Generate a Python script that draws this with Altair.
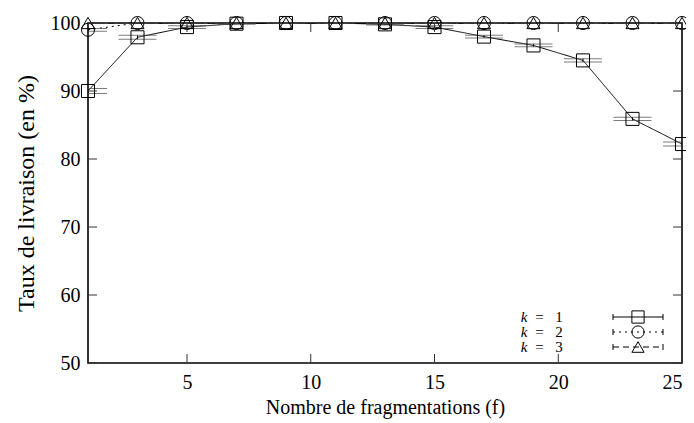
import altair as alt
import pandas as pd

# ---- data ----
frag = [1, 3, 5, 7, 9, 11, 13, 15, 17, 19, 21, 23, 25]
k1 = [90.0, 97.9, 99.4, 99.9, 100.0, 100.0, 99.8, 99.4, 98.0, 96.7, 94.5, 85.9, 82.2]
k1_err = [0.35, 0.3, 0.2, 0.1, 0.05, 0.05, 0.1, 0.2, 0.2, 0.2, 0.25, 0.25, 0.3]
k2 = [99.0, 100.0, 100.0, 100.0, 100.0, 100.0, 100.0, 100.0, 100.0, 100.0, 100.0, 100.0, 100.0]
k2_err = [0.2, 0.0, 0.0, 0.0, 0.0, 0.0, 0.0, 0.0, 0.0, 0.0, 0.0, 0.0, 0.0]
k3 = [100.0] * 13
k3_err = [0.0] * 13
series_names = ["k = 1", "k = 2", "k = 3"]
x_ticks = [5, 10, 15, 20, 25]
y_ticks = [50, 60, 70, 80, 90, 100]

W, H = 594, 340
FONT = "'Liberation Serif', 'Times New Roman', Times, serif"

rows = []
for name, vals, errs in zip(series_names, [k1, k2, k3], [k1_err, k2_err, k3_err]):
    for x, v, e in zip(frag, vals, errs):
        rows.append({"k": name, "f": x, "v": v, "lo": v - e, "hi": v + e})
df = pd.DataFrame(rows)

xs = alt.Scale(domain=[1, 25], nice=False, zero=False)
ys = alt.Scale(domain=[50, 100], nice=False, zero=False)

shapes = {"k = 1": "square", "k = 2": "circle", "k = 3": "triangle-up"}
dashes = {"k = 1": [1, 0], "k = 2": [2, 4], "k = 3": [6, 4]}

xaxis = alt.Axis(values=x_ticks, tickSize=0, labelFontSize=20, labelFont=FONT,
                 labelColor="black", domain=False, grid=False, labelPadding=9,
                 title="Nombre de fragmentations (f)", titleFont=FONT,
                 titleFontSize=20, titleFontWeight="normal", titleColor="black",
                 titlePadding=5)
yaxis = alt.Axis(values=y_ticks, tickSize=0, labelFontSize=20, labelFont=FONT,
                 labelColor="black", domain=False, grid=False, labelPadding=8,
                 title="Taux de livraison (en %)", titleFont=FONT,
                 titleFontSize=24, titleFontWeight="normal", titleColor="black",
                 titlePadding=12)


def X(field):
    return alt.X(field, scale=xs, axis=xaxis)


def Y(field):
    return alt.Y(field, scale=ys, axis=yaxis)


base = alt.Chart(df)
layers = []
for name in series_names:
    sub = base.transform_filter(alt.datum.k == name)
    line = sub.mark_line(color="black", strokeWidth=1, strokeDash=dashes[name], clip=True).encode(
        x=X("f:Q"), y=Y("v:Q"))
    bar = sub.mark_rule(color="black", strokeWidth=1, clip=True).encode(
        x=X("f:Q"), y=Y("lo:Q"), y2="hi:Q")
    cap_lo = sub.mark_tick(color="#444", orient="horizontal", size=38, thickness=1, clip=True).encode(
        x=X("f:Q"), y=Y("lo:Q"))
    cap_hi = sub.mark_tick(color="#444", orient="horizontal", size=38, thickness=1, clip=True).encode(
        x=X("f:Q"), y=Y("hi:Q"))
    pts = sub.mark_point(shape=shapes[name], filled=False, color="black", size=170,
                         strokeWidth=1, opacity=1).encode(x=X("f:Q"), y=Y("v:Q"))
    layers += [line, bar, cap_lo, cap_hi, pts]

# inward ticks (mirrored on all four sides)
tx = pd.DataFrame({"t": x_ticks})
ty = pd.DataFrame({"t": y_ticks})
tick_color = "#333"
ticks = [
    alt.Chart(tx).mark_rule(color=tick_color, strokeWidth=1).encode(
        x=X("t:Q"), y=alt.value(H - 9), y2=alt.value(H)),
    alt.Chart(tx).mark_rule(color=tick_color, strokeWidth=1).encode(
        x=X("t:Q"), y=alt.value(0), y2=alt.value(9)),
    alt.Chart(ty).mark_rule(color=tick_color, strokeWidth=1).encode(
        y=Y("t:Q"), x=alt.value(0), x2=alt.value(9)),
    alt.Chart(ty).mark_rule(color=tick_color, strokeWidth=1).encode(
        y=Y("t:Q"), x=alt.value(W - 9), x2=alt.value(W)),
]

# legend (bottom right, inside the plot)
leg = []
leg_y = [294, 309, 324]
one = pd.DataFrame({"a": [0]})
for name, yy in zip(series_names, leg_y):
    kpart, eq, num = name.split(" ")
    leg.append(alt.Chart(one).mark_text(font=FONT, fontSize=15, fontStyle="italic",
                                        align="center", baseline="middle", color="black").encode(
        x=alt.value(436), y=alt.value(yy), text=alt.value(kpart)))
    leg.append(alt.Chart(one).mark_text(font=FONT, fontSize=15, align="center",
                                        baseline="middle", color="black").encode(
        x=alt.value(451.5), y=alt.value(yy), text=alt.value(eq)))
    leg.append(alt.Chart(one).mark_text(font=FONT, fontSize=15, align="center",
                                        baseline="middle", color="black").encode(
        x=alt.value(471), y=alt.value(yy), text=alt.value(num)))
    leg.append(alt.Chart(one).mark_rule(color="black", strokeWidth=1, strokeDash=dashes[name]).encode(
        x=alt.value(525), x2=alt.value(575), y=alt.value(yy)))
    leg.append(alt.Chart(one).mark_rule(color="black", strokeWidth=1).encode(
        x=alt.value(525), y=alt.value(yy - 3), y2=alt.value(yy + 3)))
    leg.append(alt.Chart(one).mark_rule(color="black", strokeWidth=1).encode(
        x=alt.value(575), y=alt.value(yy - 3), y2=alt.value(yy + 3)))
    leg.append(alt.Chart(one).mark_point(shape=shapes[name], filled=False, color="black",
                                         size=150, strokeWidth=1, opacity=1).encode(
        x=alt.value(550), y=alt.value(yy)))

chart = alt.layer(*layers, *ticks, *leg).properties(
    width=W, height=H,
    autosize=alt.AutoSizeParams(type="none"),
    padding={"left": 80, "top": 15, "right": 4, "bottom": 60},
).configure_view(stroke="black", strokeWidth=1.6)

chart.save("out.html", embed_options={"renderer": "svg", "actions": False})
